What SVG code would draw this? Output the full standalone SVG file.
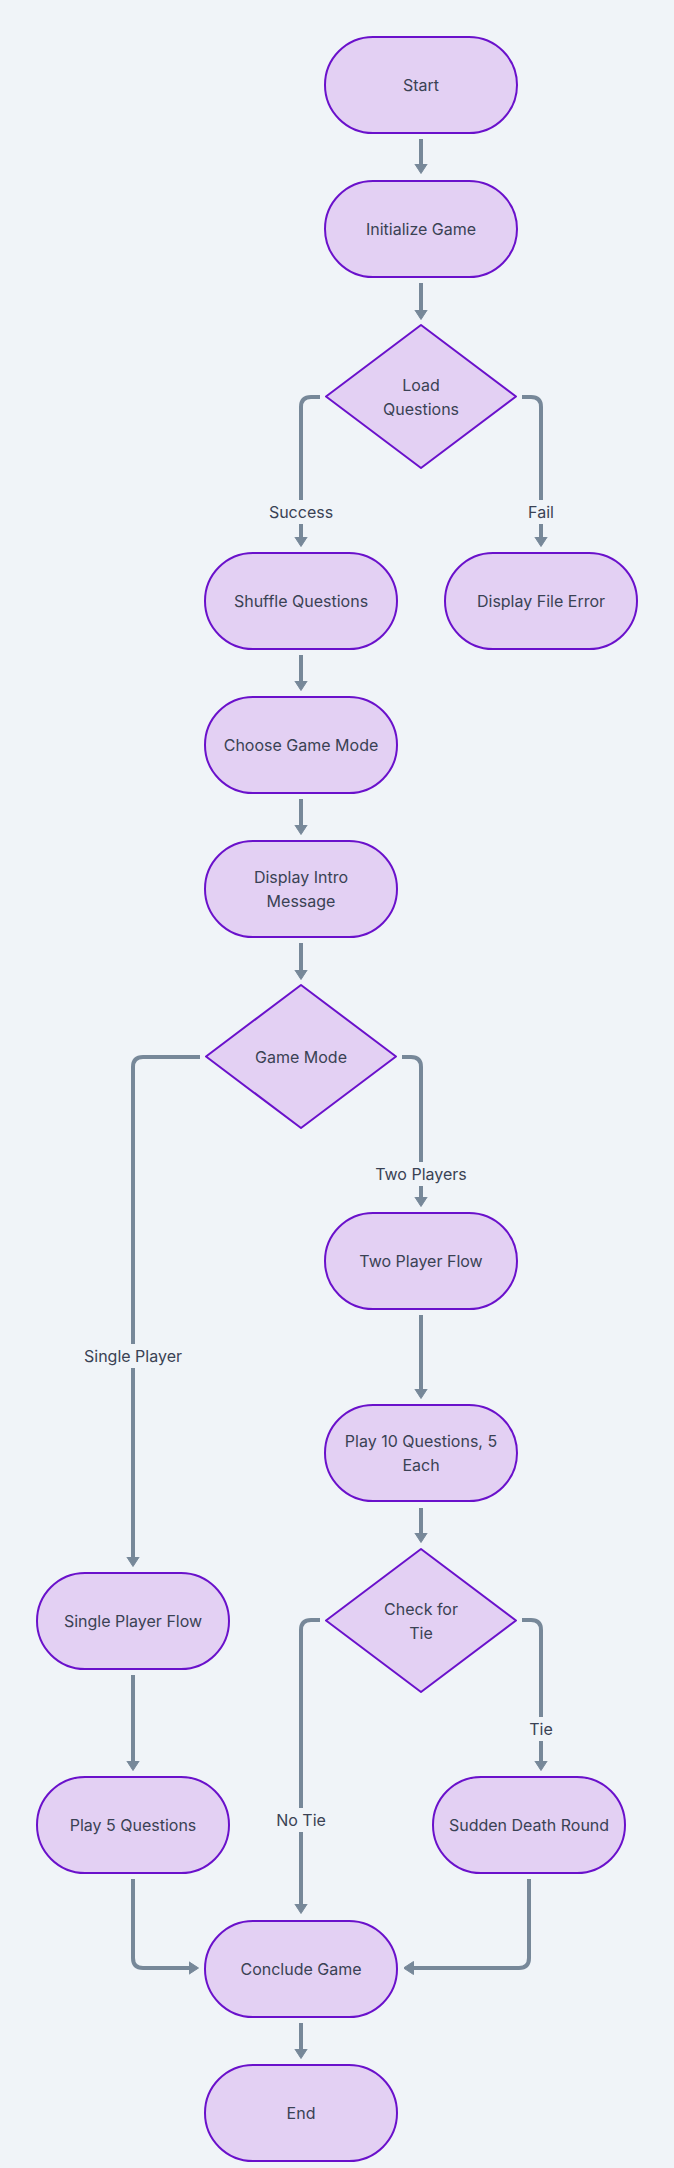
<svg xmlns="http://www.w3.org/2000/svg" width="674" height="2168" viewBox="0 0 674 2168">
<style>
.bg{fill:#f0f4f8}
.node rect,.node polygon{fill:#e3d0f3;stroke:#6a11cb;stroke-width:2;stroke-linejoin:round}
.node text{font-family:Inter,"Noto Sans",sans-serif;font-size:16px;fill:#3a4254;text-anchor:middle;dominant-baseline:central}
.edge{fill:none;stroke:#778899;stroke-width:4;stroke-linecap:butt;marker-end:url(#arr)}
.lbl rect{fill:#f0f4f8}
.lbl text{font-family:Inter,"Noto Sans",sans-serif;font-size:16px;fill:#3a4254;text-anchor:middle;dominant-baseline:central}
</style>
<defs>
<marker id="arr" markerUnits="userSpaceOnUse" viewBox="0 0 10 14" refX="0.5" refY="7" markerWidth="10" markerHeight="14" orient="auto">
<path d="M0,0.5 L10,7 L0,13.5 Z" fill="#778899" stroke="#778899" stroke-width="1" stroke-linejoin="round"/>
</marker>
</defs>
<rect class="bg" x="0" y="0" width="674" height="2168"/>
<g id="connectors">
<path class="edge" d="M421,139 V164"/>
<path class="edge" d="M421,283 V310"/>
<path class="edge" d="M320,397 H311 Q301,397 301,407 V537"/>
<path class="edge" d="M522,397 H531 Q541,397 541,407 V537"/>
<path class="edge" d="M301,655 V681"/>
<path class="edge" d="M301,799 V825"/>
<path class="edge" d="M301,943 V970"/>
<path class="edge" d="M402,1057 H411 Q421,1057 421,1067 V1197"/>
<path class="edge" d="M200,1057 H143 Q133,1057 133,1067 V1557"/>
<path class="edge" d="M421,1315 V1389"/>
<path class="edge" d="M421,1508 V1533"/>
<path class="edge" d="M320,1620 H311 Q301,1620 301,1630 V1904"/>
<path class="edge" d="M522,1620 H531 Q541,1620 541,1630 V1761"/>
<path class="edge" d="M133,1675 V1761"/>
<path class="edge" d="M133,1879 V1958 Q133,1968 143,1968 H189"/>
<path class="edge" d="M529,1879 V1958 Q529,1968 519,1968 H413"/>
<path class="edge" d="M301,2023 V2049"/>
<g class="lbl"><rect x="268" y="500" width="66" height="24"/><text x="301" y="512">Success</text></g>
<g class="lbl"><rect x="525" y="500" width="32" height="24"/><text x="541" y="512">Fail</text></g>
<g class="lbl"><rect x="372" y="1162" width="98" height="24"/><text x="421" y="1174">Two Players</text></g>
<g class="lbl"><rect x="80" y="1344" width="106" height="24"/><text x="133" y="1356">Single Player</text></g>
<g class="lbl"><rect x="275" y="1808" width="52" height="24"/><text x="301" y="1820">No Tie</text></g>
<g class="lbl"><rect x="527" y="1717" width="28" height="24"/><text x="541" y="1729">Tie</text></g>
</g>
<g id="start" class="node"><rect x="325" y="37" width="192" height="96" rx="48" ry="48"/><text x="421" y="85">Start</text></g>
<g id="init" class="node"><rect x="325" y="181" width="192" height="96" rx="48" ry="48"/><text x="421" y="229">Initialize Game</text></g>
<g id="loadq" class="node"><polygon points="421,325 516,396.5 421,468 326,396.5"/><text x="421" y="385">Load</text><text x="421" y="409">Questions</text></g>
<g id="shuffle" class="node"><rect x="205" y="553" width="192" height="96" rx="48" ry="48"/><text x="301" y="601">Shuffle Questions</text></g>
<g id="fileerr" class="node"><rect x="445" y="553" width="192" height="96" rx="48" ry="48"/><text x="541" y="601">Display File Error</text></g>
<g id="choose" class="node"><rect x="205" y="697" width="192" height="96" rx="48" ry="48"/><text x="301" y="745">Choose Game Mode</text></g>
<g id="intro" class="node"><rect x="205" y="841" width="192" height="96" rx="48" ry="48"/><text x="301" y="877">Display Intro</text><text x="301" y="901">Message</text></g>
<g id="gamemode" class="node"><polygon points="301,985 396,1056.5 301,1128 206,1056.5"/><text x="301" y="1057">Game Mode</text></g>
<g id="twoflow" class="node"><rect x="325" y="1213" width="192" height="96" rx="48" ry="48"/><text x="421" y="1261">Two Player Flow</text></g>
<g id="play10" class="node"><rect x="325" y="1405" width="192" height="96" rx="48" ry="48"/><text x="421" y="1441">Play 10 Questions, 5</text><text x="421" y="1465">Each</text></g>
<g id="checktie" class="node"><polygon points="421,1549 516,1620.5 421,1692 326,1620.5"/><text x="421" y="1609">Check for</text><text x="421" y="1633">Tie</text></g>
<g id="singleflow" class="node"><rect x="37" y="1573" width="192" height="96" rx="48" ry="48"/><text x="133" y="1621">Single Player Flow</text></g>
<g id="play5" class="node"><rect x="37" y="1777" width="192" height="96" rx="48" ry="48"/><text x="133" y="1825">Play 5 Questions</text></g>
<g id="sudden" class="node"><rect x="433" y="1777" width="192" height="96" rx="48" ry="48"/><text x="529" y="1825">Sudden Death Round</text></g>
<g id="conclude" class="node"><rect x="205" y="1921" width="192" height="96" rx="48" ry="48"/><text x="301" y="1969">Conclude Game</text></g>
<g id="end" class="node"><rect x="205" y="2065" width="192" height="96" rx="48" ry="48"/><text x="301" y="2113">End</text></g>
</svg>
